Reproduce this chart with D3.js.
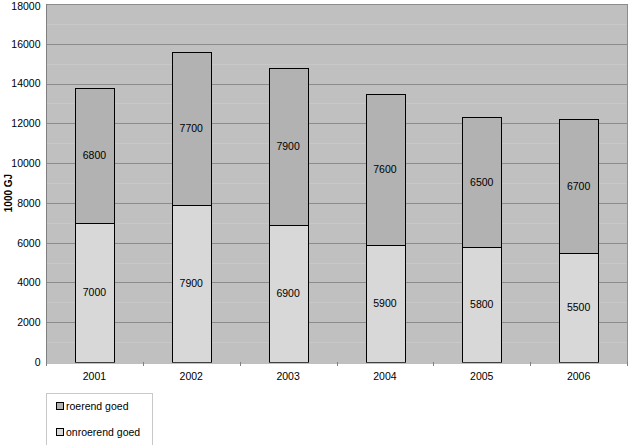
<!DOCTYPE html>
<html><head><meta charset="utf-8">
<script src="https://cdn.jsdelivr.net/npm/d3@7"></script>
<style>body{margin:0;background:#fff}svg{display:block}text{font-family:"Liberation Sans",Arial,sans-serif}</style>
</head><body>
<svg id="c" width="629" height="445"></svg>
<script>
const years = ["2001","2002","2003","2004","2005","2006"];
const onroerend = [7000,7900,6900,5900,5800,5500];
const roerend = [6800,7700,7900,7600,6500,6700];
const yTicks = [0,2000,4000,6000,8000,10000,12000,14000,16000,18000];
const minorTicks = [1000,3000,5000,7000,9000,11000,13000,15000,17000];
const seriesNames = ["roerend goed","onroerend goed"];
const colors = {roerend:"#b2b2b2", onroerend:"#d8d8d8"};
const FS = 10.5;

const svg = d3.select("#c");
const m = {l:46, r:2, t:4, b:83};
const W = 629, H = 445;
const x = d3.scaleBand().domain(years).range([m.l, W-m.r]).paddingInner(0).paddingOuter(0);
const y = d3.scaleLinear().domain([0,18000]).range([H-m.b, m.t]);

svg.append("rect").attr("x",m.l).attr("y",m.t).attr("width",W-m.r-m.l).attr("height",y(0)-m.t).attr("fill","#c0c0c0");

svg.selectAll(".mg").data(minorTicks).join("line")
  .attr("x1",m.l).attr("x2",W-m.r).attr("y1",d=>Math.round(y(d))+0.5).attr("y2",d=>Math.round(y(d))+0.5)
  .attr("stroke","#c8c8c8").attr("stroke-width",1);
svg.selectAll(".g").data(yTicks.slice(1)).join("line")
  .attr("x1",m.l).attr("x2",W-m.r).attr("y1",d=>Math.round(y(d))+0.5).attr("y2",d=>Math.round(y(d))+0.5)
  .attr("stroke","#8c8c8c").attr("stroke-width",1);
svg.append("line").attr("x1",W-m.r+0.5).attr("x2",W-m.r+0.5).attr("y1",m.t).attr("y2",y(0)).attr("stroke","#8c8c8c");

const bw = x.bandwidth()*0.4;
const bars = svg.append("g");
years.forEach((yr,i)=>{
  const cx = x(yr)+x.bandwidth()/2;
  const x0 = Math.round(cx-bw/2)+0.5;
  const w = Math.round(bw);
  const b = onroerend[i], t = roerend[i];
  bars.append("rect").attr("x",x0).attr("y",Math.round(y(b))+0.5).attr("width",w).attr("height",Math.round(y(0))-Math.round(y(b)))
    .attr("fill",colors.onroerend).attr("stroke","#000");
  bars.append("rect").attr("x",x0).attr("y",Math.round(y(b+t))+0.5).attr("width",w).attr("height",Math.round(y(b))-Math.round(y(b+t)))
    .attr("fill",colors.roerend).attr("stroke","#000");
  bars.append("text").attr("x",cx).attr("y",y(b/2)).attr("dy","0.35em").attr("text-anchor","middle").attr("font-size",FS).text(b);
  bars.append("text").attr("x",cx).attr("y",y(b+t/2)).attr("dy","0.35em").attr("text-anchor","middle").attr("font-size",FS).text(t);
});

const ya = svg.append("g").attr("transform",`translate(${m.l+0.5},0)`)
  .call(d3.axisLeft(y).tickValues(yTicks).tickSize(0).tickPadding(6).tickFormat(d3.format("d")));
ya.select(".domain").attr("stroke","#808080").attr("d",`M0,${m.t}V${y(0)}`);
ya.selectAll("text").attr("font-size",FS).attr("fill","#000").attr("font-family","Liberation Sans, Arial, sans-serif")
  .attr("dy", d => d===18000 ? "0.55em" : "0.32em");

const xa = svg.append("g").attr("transform",`translate(0,${Math.round(y(0))+0.5})`)
  .call(d3.axisBottom(x).tickSize(0).tickPadding(10));
xa.select(".domain").attr("stroke","#808080");
xa.selectAll("text").attr("font-size",FS).attr("fill","#000").attr("font-family","Liberation Sans, Arial, sans-serif");
const bounds = years.map(d=>x(d)).concat([x.range()[1]]);
svg.selectAll(".xt").data(bounds).join("line")
  .attr("x1",d=>Math.round(d)+0.5).attr("x2",d=>Math.round(d)+0.5).attr("y1",y(0)).attr("y2",y(0)+4).attr("stroke","#808080");

svg.append("text").attr("transform",`translate(8,193) rotate(-90)`).attr("text-anchor","middle").attr("dy","0.35em")
  .attr("font-size",10).attr("font-weight","bold").text("1000 GJ");

const lg = svg.append("g");
lg.append("rect").attr("x",46.5).attr("y",393.5).attr("width",106).attr("height",60).attr("fill","#fff").attr("stroke","#c8c8c8");
const lc = [colors.roerend, colors.onroerend];
seriesNames.forEach((n,i)=>{
  const yy = 406 + i*26;
  lg.append("rect").attr("x",56.5).attr("y",yy-3.5).attr("width",7).attr("height",7).attr("fill",lc[i]).attr("stroke","#000");
  lg.append("text").attr("x",66).attr("y",yy).attr("dy","0.35em").attr("font-size",FS).text(n);
});
</script>
</body></html>
